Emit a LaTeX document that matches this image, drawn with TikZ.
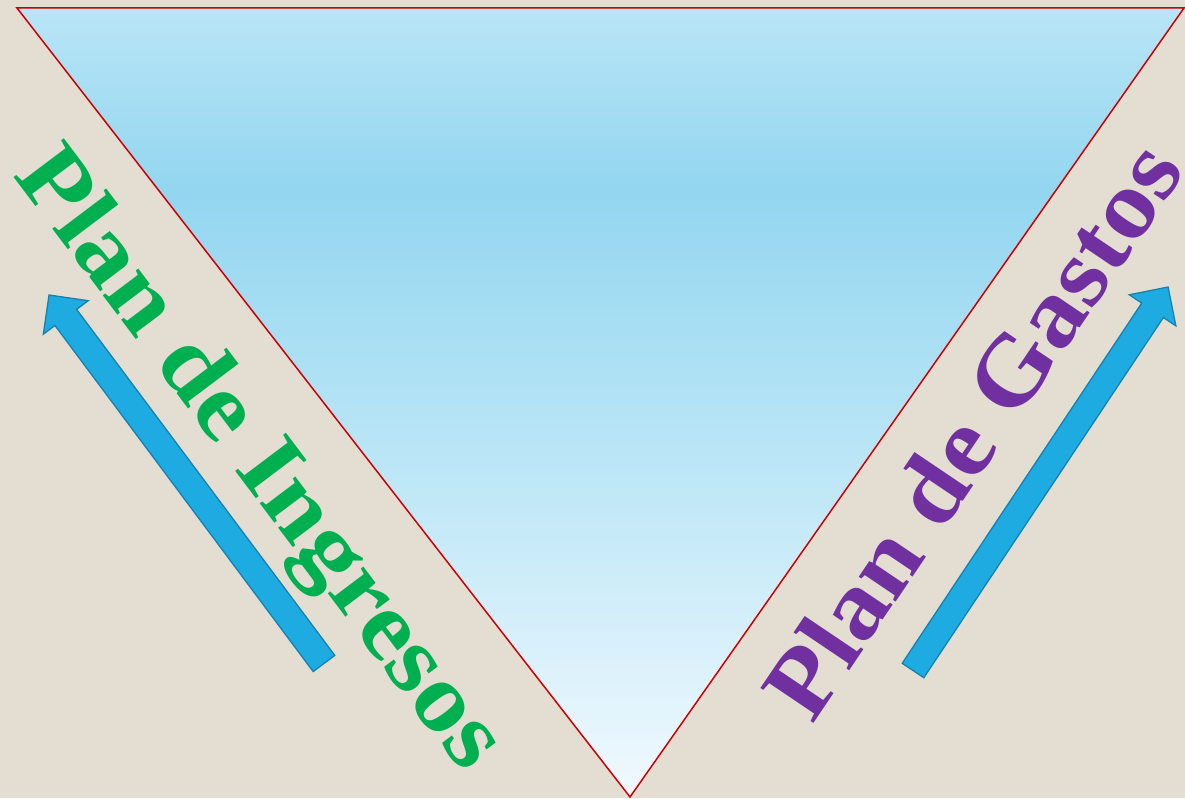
\documentclass[tikz,border=0pt]{standalone}
\usepackage{fontspec}
\setmainfont{Liberation Serif}
\definecolor{bgc}{HTML}{E4DDD2}
\definecolor{c0}{HTML}{B9E5F6}
\definecolor{c1}{HTML}{93D6F0}
\definecolor{c2}{HTML}{BEE7F7}
\definecolor{c3}{HTML}{F1F9FE}
\definecolor{edgered}{HTML}{CC0000}
\definecolor{arrowfill}{HTML}{1DABE1}
\definecolor{arrowline}{HTML}{1682AE}
\definecolor{ingreen}{HTML}{00B050}
\definecolor{gaspurple}{HTML}{7030A0}
\begin{document}
\begin{tikzpicture}[x=1pt,y=1pt,
  bigarrow/.style={fill=arrowfill, draw=arrowline, line width=1.3pt, line join=miter},
  rededge/.style={draw=edgered, line width=1.5pt, line join=miter},
  lbl/.style={font=\fontsize{97}{100}\selectfont\bfseries, inner sep=0pt, anchor=base west}]
\useasboundingbox (0,0) rectangle (1185,798);
\fill[bgc] (0,0) rectangle (1185,798);
\coordinate (tl) at (17,790);
\coordinate (tr) at (1184,790);
\coordinate (bt) at (630,1);
\begin{scope}
  \clip (tl) -- (tr) -- (bt) -- cycle;
  \shade[top color=c0, bottom color=c1] (0,608) rectangle (1185,791);
  \shade[top color=c1, bottom color=c2] (0,318) rectangle (1185,608.5);
  \shade[top color=c2, bottom color=c3] (0,0) rectangle (1185,318.5);
\end{scope}
\draw[rededge] (tl) -- (tr) -- (bt) -- cycle;
% left arrow
\begin{scope}[shift={(324,134.5)}, rotate=126.73]
  \draw[bigarrow] (0,-13.5) -- (431.8,-13.5) -- (431.8,-28) -- (459.8,0)
     -- (431.8,28) -- (431.8,13.5) -- (0,13.5) -- cycle;
\end{scope}
% right arrow
\begin{scope}[shift={(913,127.5)}, rotate=56.37]
  \draw[bigarrow] (0,-13) -- (432.6,-13) -- (432.6,-28) -- (460.6,0)
     -- (432.6,28) -- (432.6,13) -- (0,13) -- cycle;
\end{scope}
\node[lbl, text=ingreen, rotate=-53] (ingresos) at (12,623) {\scalebox{1.1}[1]{Plan de Ingresos}};
\node[lbl, text=gaspurple, rotate=56] (gastos) at (812,72) {\scalebox{1.09}[1]{Plan de Gastos}};
\end{tikzpicture}
\end{document}
